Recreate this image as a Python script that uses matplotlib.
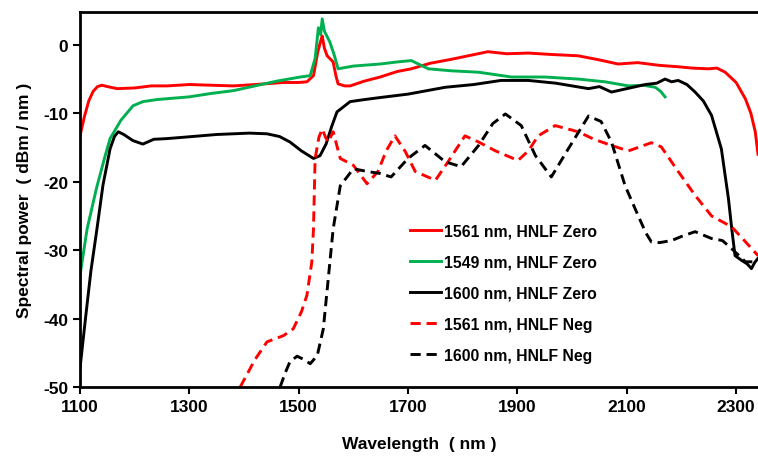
import matplotlib.pyplot as plt

# 1561 nm, HNLF Zero (red solid)
red_zero_x = [1100, 1108, 1116, 1124, 1132, 1140, 1150, 1168, 1200, 1230, 1259, 1300, 1340, 1380, 1420, 1472,
              1500, 1515, 1527, 1535, 1540, 1543, 1547, 1552, 1563, 1568, 1572, 1584, 1594, 1620, 1649,
              1680, 1706, 1740, 1780, 1810, 1846, 1880, 1920, 1960, 2011, 2050, 2084, 2120, 2160, 2194,
              2220, 2249, 2265, 2280, 2300, 2317, 2327, 2335, 2340]
red_zero_y = [-13.3, -10.5, -8.2, -6.8, -6.1, -5.9, -6.1, -6.4, -6.3, -6.0, -6.0, -5.8, -5.9, -6.0, -5.8, -5.5,
              -5.5, -5.4, -4.5, -1.0, 0.5, 1.3, -0.5, -1.6, -2.5, -4.5, -5.7, -6.0, -6.0, -5.3, -4.7,
              -3.9, -3.5, -2.7, -2.1, -1.6, -1.0, -1.3, -1.2, -1.4, -1.6, -2.2, -2.8, -2.6, -3.0, -3.2,
              -3.4, -3.5, -3.4, -4.0, -5.5, -7.9, -10.0, -12.7, -16.0]

# 1549 nm, HNLF Zero (green solid)
green_x = [1100, 1113, 1130, 1145, 1155, 1175, 1197, 1215, 1240, 1270, 1300, 1340, 1380, 1420, 1460,
           1503, 1521, 1530, 1536, 1540, 1543, 1547, 1557, 1565, 1572, 1600, 1649, 1680, 1706, 1737,
           1780, 1829, 1889, 1950, 2011, 2060, 2103, 2130, 2152, 2162, 2170]
green_y = [-33.7, -26.9, -21.0, -16.5, -13.7, -11.0, -8.9, -8.3, -8.0, -7.8, -7.6, -7.1, -6.7, -6.0, -5.3,
           -4.7, -4.5, -2.0, 2.5, 1.5, 3.8, 2.0, 0.4, -1.5, -3.5, -3.1, -2.8, -2.5, -2.3, -3.5,
           -3.8, -4.0, -4.7, -4.7, -5.0, -5.4, -6.0, -5.9, -6.2, -6.8, -7.6]

# 1600 nm, HNLF Zero (black solid)
black_zero_x = [1100, 1110, 1120, 1131, 1142, 1155, 1163, 1170, 1180, 1197, 1215, 1235, 1259, 1290, 1320,
                1350, 1380, 1410, 1442, 1465, 1484, 1505, 1527, 1539, 1550, 1560, 1570, 1594, 1620, 1649,
                1700, 1768, 1820, 1870, 1920, 1970, 2030, 2050, 2072, 2100, 2134, 2155, 2170, 2182, 2194,
                2210, 2225, 2240, 2255, 2273, 2286, 2292, 2298, 2310, 2320, 2328, 2334, 2340]
black_zero_y = [-47.3, -40.0, -33.0, -26.9, -20.5, -15.2, -13.4, -12.7, -13.1, -14.0, -14.5, -13.8, -13.7, -13.5, -13.3,
                -13.1, -13.0, -12.9, -13.0, -13.4, -14.2, -15.5, -16.6, -16.2, -14.5, -12.0, -9.8, -8.3, -8.0, -7.7,
                -7.2, -6.2, -5.8, -5.2, -5.2, -5.6, -6.4, -6.1, -6.9, -6.4, -5.8, -5.6, -5.0, -5.4, -5.2,
                -5.8, -6.9, -8.2, -10.3, -15.2, -22.5, -26.9, -30.8, -31.5, -32.0, -32.7, -31.8, -31.2]

# 1561 nm, HNLF Neg (red dashed)
red_neg_x = [1393, 1420, 1442, 1472, 1490, 1505, 1515, 1524, 1527, 1530, 1537, 1543, 1549, 1554, 1563,
             1576, 1600, 1625, 1645, 1660, 1676, 1695, 1713, 1750, 1773, 1804, 1829, 1860, 1901, 1920,
             1938, 1969, 2011, 2040, 2072, 2103, 2145, 2163, 2194, 2225, 2255, 2292, 2323, 2340]
red_neg_y = [-50.0, -46.0, -43.4, -42.5, -41.5, -39.0, -36.6, -31.7, -26.9, -16.6, -13.5, -12.3, -13.5, -14.2, -12.7,
             -16.6, -17.6, -20.3, -18.5, -15.5, -13.3, -15.6, -18.5, -19.8, -17.1, -13.3, -14.2, -15.5, -16.9, -15.5,
             -13.3, -11.8, -12.7, -13.8, -14.7, -15.5, -14.3, -14.9, -18.5, -22.0, -25.0, -26.6, -29.3, -30.8]

# 1600 nm, HNLF Neg (black dashed)
black_neg_x = [1466, 1475, 1484, 1497, 1510, 1521, 1534, 1545, 1554, 1563, 1576, 1600, 1625, 1649, 1669,
               1700, 1731, 1768, 1797, 1829, 1855, 1878, 1907, 1933, 1962, 1993, 2030, 2053, 2072, 2097,
               2121, 2135, 2145, 2160, 2182, 2200, 2225, 2240, 2255, 2275, 2292, 2317, 2340]
black_neg_y = [-50.0, -48.0, -46.3, -45.5, -46.0, -46.6, -45.4, -41.5, -34.2, -26.9, -20.6, -18.1, -18.5, -18.8, -19.3,
               -16.6, -14.7, -17.1, -17.8, -14.7, -11.5, -10.1, -11.8, -16.2, -19.3, -15.2, -10.4, -11.2, -14.2, -20.6,
               -25.0, -27.5, -28.8, -28.9, -28.6, -28.0, -27.3, -27.8, -28.3, -28.6, -29.8, -31.7, -31.7]

x_ticks = [1100, 1300, 1500, 1700, 1900, 2100, 2300]
y_ticks = [0, -10, -20, -30, -40, -50]

plt.rcParams['font.family'] = ['Liberation Sans', 'DejaVu Sans']
plt.rcParams['font.weight'] = 'bold'
plt.rcParams['axes.unicode_minus'] = False

fig = plt.figure(figsize=(7.58, 4.60), dpi=100)
ax = fig.add_axes([80 / 758, 1 - 388 / 460, 1 - 80 / 758, (388 - 13) / 460])

lw = 2.1
ax.plot(red_zero_x, red_zero_y, color='#FF0000', lw=lw, label='1561 nm, HNLF Zero')
ax.plot(green_x, green_y, color='#00B050', lw=lw, label='1549 nm, HNLF Zero')
ax.plot(black_zero_x, black_zero_y, color='black', lw=lw, label='1600 nm, HNLF Zero')
ax.plot(red_neg_x, red_neg_y, color='#FF0000', lw=lw, ls=(0, (3.5, 2)), label='1561 nm, HNLF Neg')
ax.plot(black_neg_x, black_neg_y, color='black', lw=lw, ls=(0, (3.5, 2)), label='1600 nm, HNLF Neg')

ax.set_xlim(1100, 2340)
ax.set_ylim(-50, 4.8)
ax.set_xticks(x_ticks)
ax.set_yticks(y_ticks)
ax.tick_params(direction='out', length=5, width=1.5, labelsize=12.5)
for lab in ax.get_xticklabels() + ax.get_yticklabels():
    lab.set_fontweight('bold')

for side in ['left', 'top', 'bottom']:
    ax.spines[side].set_linewidth(2)
ax.spines['right'].set_visible(False)

ax.set_xlabel('Wavelength  ( nm )', fontsize=12.5, fontweight='bold', labelpad=16)
ax.set_ylabel('Spectral power  ( dBm / nm )', fontsize=12.5, fontweight='bold', labelpad=8)

ax.legend(loc='upper left', bbox_to_anchor=(0.487, 0.437), frameon=False,
          prop={'weight': 'bold', 'size': 11.3}, handlelength=1.95, handletextpad=0.2,
          labelspacing=1.03, borderpad=0, borderaxespad=0)

fig.savefig('out.png', dpi=100)
